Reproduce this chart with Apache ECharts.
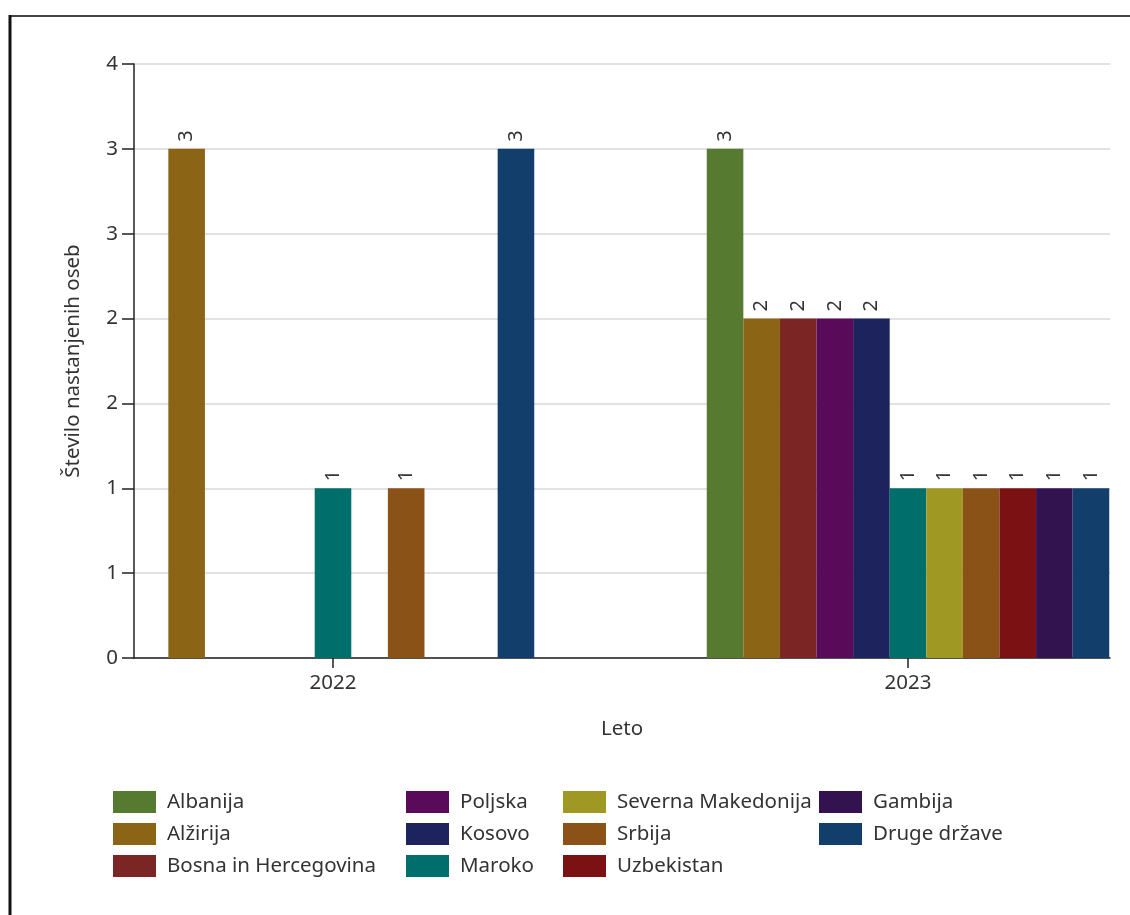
<!DOCTYPE html>
<html>
<head>
<meta charset="utf-8">
<script src="https://cdn.jsdelivr.net/npm/echarts@6/dist/echarts.min.js"></script>
<style>
html,body{margin:0;padding:0;background:#fff;}
#chart{width:1130px;height:915px;}
</style>
</head>
<body>
<div id="chart"></div>
<script>
// ---- data ----
const categories = ['2022', '2023'];
const seriesNames = ['Albanija', 'Alžirija', 'Bosna in Hercegovina', 'Poljska', 'Kosovo', 'Maroko',
  'Severna Makedonija', 'Srbija', 'Uzbekistan', 'Gambija', 'Druge države'];
const albanija      = [null, 3];
const alzirija      = [3, 2];
const bosna         = [null, 2];
const poljska       = [null, 2];
const kosovo        = [null, 2];
const maroko        = [1, 1];
const sevMakedonija = [null, 1];
const srbija        = [1, 1];
const uzbekistan    = [null, 1];
const gambija       = [null, 1];
const drugeDrzave   = [3, 1];
const yTickLabels = ['0', '1', '1', '2', '2', '3', '3', '4'];
const yAxisTitle = 'Število nastanjenih oseb';
const xAxisTitle = 'Leto';

// ---- styles ----
const seriesValues = [albanija, alzirija, bosna, poljska, kosovo, maroko, sevMakedonija, srbija, uzbekistan, gambija, drugeDrzave];
const palette = ['#557a30', '#8b6416', '#7b2525', '#590a59', '#1c235d', '#006e6a',
  '#9f9924', '#8b5218', '#7b1112', '#33134f', '#123e6c'];
const FONT = '"Noto Sans", "Open Sans", sans-serif';
const TXT = '#333333';
const FS = 20.5;

const chart = echarts.init(document.getElementById('chart'), null, {renderer: 'canvas'});

const series = seriesNames.map((name, i) => ({
  name: name,
  type: 'bar',
  xAxisIndex: 1,
  yAxisIndex: 1,
  barGap: '0%',
  barCategoryGap: '30%',
  itemStyle: {color: palette[i]},
  label: {
    show: true,
    position: 'top',
    rotate: 90,
    align: 'left',
    verticalAlign: 'middle',
    distance: 7,
    fontSize: 20,
    fontFamily: FONT,
    color: TXT
  },
  data: seriesValues[i]
}));

const legendCols = [[0, 3, 113], [3, 6, 406], [6, 9, 563], [9, 11, 819]];

chart.setOption({
  backgroundColor: '#ffffff',
  animation: false,
  textStyle: {fontFamily: FONT},
  graphic: [
    {type: 'line', shape: {x1: 10, y1: 16, x2: 1130, y2: 16}, style: {stroke: '#444', lineWidth: 2}},
    {type: 'line', shape: {x1: 10, y1: 15, x2: 10, y2: 915}, style: {stroke: '#111', lineWidth: 3}}
  ],
  grid: [
    {left: 134, top: 64, width: 976, height: 594, outerBoundsMode: 'none', containLabel: false},
    {left: 45.5, top: 64, width: 1150, height: 594, outerBoundsMode: 'none', containLabel: false}
  ],
  xAxis: [
    {
      gridIndex: 0, type: 'category', data: categories,
      axisLine: {show: true, lineStyle: {color: '#222', width: 1.5}},
      axisTick: {show: false}, axisLabel: {show: false}, splitLine: {show: false},
      name: xAxisTitle, nameLocation: 'middle', nameGap: 61,
      nameTextStyle: {fontSize: FS, color: TXT, fontFamily: FONT}
    },
    {
      gridIndex: 1, type: 'category', data: categories,
      axisLine: {show: false},
      axisTick: {show: true, alignWithLabel: true, length: 10, lineStyle: {color: '#222', width: 1.5}},
      axisLabel: {show: true, margin: 15, fontSize: FS, color: TXT, fontFamily: FONT},
      splitLine: {show: false}
    }
  ],
  yAxis: [
    {
      gridIndex: 0, type: 'value', min: 0, max: 3.5, interval: 0.5,
      axisLine: {show: true, lineStyle: {color: '#222', width: 1.5}},
      axisTick: {show: true, length: 12, lineStyle: {color: '#222', width: 1.5}},
      axisLabel: {
        margin: 16, fontSize: FS, color: TXT, fontFamily: FONT,
        formatter: (v, idx) => yTickLabels[idx]
      },
      splitLine: {show: true, lineStyle: {color: '#d9d9d9', width: 1.5}},
      name: yAxisTitle, nameLocation: 'middle', nameGap: 50,
      nameTextStyle: {fontSize: FS, color: TXT, fontFamily: FONT}
    },
    {
      gridIndex: 1, type: 'value', min: 0, max: 3.5, interval: 0.5, show: false
    }
  ],
  legend: legendCols.map(([a, b, x]) => ({
    orient: 'vertical',
    left: x,
    top: 791,
    padding: 0,
    itemWidth: 43,
    itemHeight: 22,
    itemGap: 10,
    icon: 'rect',
    selectedMode: false,
    textStyle: {fontSize: FS, color: TXT, fontFamily: FONT, padding: [0, 0, 0, 6]},
    data: seriesNames.slice(a, b)
  })),
  series: series
});
</script>
</body>
</html>
